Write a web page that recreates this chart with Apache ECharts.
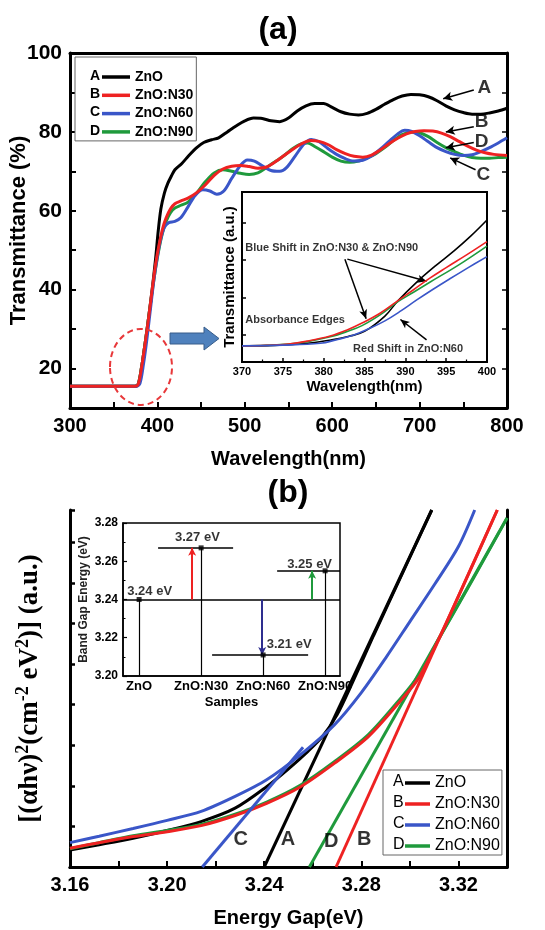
<!DOCTYPE html>
<html><head><meta charset="utf-8">
<script src="https://cdn.jsdelivr.net/npm/echarts@6/dist/echarts.min.js"></script>
<style>html,body{margin:0;padding:0;background:#fff}#c{width:545px;height:930px}</style>
</head><body><div id="c"></div>
<script>
// ---------- names / colours ----------
const names = ['ZnO', 'ZnO:N30', 'ZnO:N60', 'ZnO:N90'];
const letters = ['A', 'B', 'C', 'D'];
const colors = ['#000000', '#ee2222', '#3a56c8', '#1f9a3c'];

// ---------- (a) transmittance spectra: [wavelength nm, T %] ----------
const transA = [[300,15.5],[340,15.5],[374,15.5],[378,16],[382,20.5],[386,26.5],[390,33],[394,40],[398,48],[401,55],[404,60.5],[408,64.5],[412,67],[416,68.8],[420,70.4],[428,72],[436,74],[445,76],[453,77.3],[462,78],[470,78.5],[480,80],[490,81.5],[500,82.8],[510,83.5],[520,83.4],[530,82.8],[540,82.6],[550,83.5],[560,85.3],[570,86.6],[580,87.2],[590,87.2],[600,86.2],[610,85.1],[620,84.5],[630,84.3],[640,84.7],[650,85.7],[660,87],[670,88.2],[680,89.1],[690,89.5],[700,89.4],[710,88.9],[720,87.9],[730,86.6],[740,85.6],[750,84.9],[760,84.5],[770,84.5],[780,84.8],[790,85.3],[800,86]];
const transB = [[300,15.5],[340,15.5],[374,15.5],[378,16],[382,20.5],[386,26.5],[390,33],[394,40],[398,46.5],[402,51.5],[406,55.5],[410,58.2],[415,60.5],[420,61.8],[427,62.5],[435,63.2],[445,64.6],[455,66.6],[465,69],[475,70.6],[485,71.3],[495,71.5],[505,71.2],[515,70.8],[525,71.1],[535,72.4],[545,74],[555,75.6],[565,77],[575,77.8],[585,77.6],[595,76.8],[605,75.5],[615,74.5],[625,73.8],[635,73.6],[645,74.1],[655,75.4],[665,77],[675,78.4],[685,79.5],[695,80.1],[705,80.3],[715,80.2],[725,79.7],[735,78.8],[745,77.6],[755,76.4],[765,75.4],[775,74.7],[785,74.3],[800,74]];
const transC = [[300,15.5],[340,15.5],[376,15.5],[380,16.2],[384,21],[388,27.5],[392,35],[396,42.5],[400,48.5],[404,53],[408,55.8],[413,57],[420,57.3],[427,58.3],[435,61],[443,63.8],[452,65.3],[460,65],[468,64.2],[476,65],[485,68.2],[495,71.5],[503,72.9],[511,72.6],[520,71.4],[530,70.2],[540,70],[548,71],[558,74],[568,77],[576,78.1],[585,77.5],[595,75.8],[605,74.3],[615,73.2],[625,72.6],[635,72.8],[645,73.9],[655,75.6],[665,77.6],[675,79.5],[683,80.4],[691,80.1],[700,79],[710,77.5],[720,76],[730,75],[740,74.3],[750,74],[760,74.2],[770,75],[780,76],[790,77.2],[800,78.5]];
const transD = [[300,15.5],[340,15.5],[374,15.5],[378,16],[382,20.5],[386,26.5],[390,33],[394,39.5],[398,45.5],[402,50.5],[406,54.5],[410,57.3],[415,59.5],[420,60.7],[427,61.4],[435,62.2],[445,64.5],[455,67.4],[465,69.6],[475,70.4],[485,70],[495,69.5],[505,69.2],[515,69.6],[525,71],[535,72.5],[545,74],[555,75.8],[565,77],[572,77.2],[580,76.3],[590,75],[600,73.6],[610,72.6],[620,72.3],[630,72.6],[640,73.4],[650,74.5],[660,76],[670,77.8],[680,79.3],[690,80],[700,79.8],[710,78.8],[720,77.3],[730,76],[740,75],[750,74.1],[760,73.5],[770,73.3],[780,73.3],[790,73.5],[800,73.6]];

// ---------- (a) inset: absorption edge, [wavelength nm, T a.u.] ----------
const edgeA = [[370,9.5],[374,9.8],[378,11],[381,13],[383,15],[385,18],[387.5,27],[389,35.5],[391.4,47],[393.8,57],[396,65.5],[398,74],[400,83.5]];
const edgeB = [[370,9.5],[373,9.8],[375.7,10.6],[378,12.3],[380.8,15.3],[382.8,18.7],[384.7,22.9],[387,29],[389.1,36.1],[391,42.5],[393,49.3],[395,55.5],[397.5,63],[400,70.8]];
const edgeC = [[370,9.5],[375,9.9],[379.6,11],[381.5,13],[383.6,15.7],[385.5,19.5],[387.5,24.2],[389.5,30.2],[391.4,36.5],[393.4,42.8],[395.4,48.8],[397.7,55.5],[400,62]];
const edgeD = [[370,9.5],[373,9.8],[375.7,10.5],[378,12],[380.8,14.8],[382.8,17.8],[384.7,21.4],[387,28],[389.1,35.5],[391,41],[393,46.9],[396.5,57],[400,68.2]];

// ---------- (b) Tauc plot, [energy eV, (αhν)² a.u.] ----------
const taucA = [[3.160,0.42],[3.172,0.55],[3.186,0.71],[3.200,0.90],[3.214,1.12],[3.228,1.45],[3.241,1.98],[3.250,2.42],[3.258,2.85],[3.264,3.22],[3.270,3.75],[3.276,4.5],[3.285,5.7],[3.297,7.25],[3.309,8.8]];
const taucB = [[3.160,0.46],[3.172,0.60],[3.186,0.75],[3.200,0.87],[3.214,1.02],[3.228,1.27],[3.241,1.57],[3.255,1.98],[3.269,2.56],[3.283,3.22],[3.2965,4.12],[3.3035,4.65],[3.3117,5.6],[3.324,7.2],[3.336,8.8]];
const taucC = [[3.160,0.60],[3.172,0.76],[3.186,0.95],[3.200,1.15],[3.214,1.37],[3.228,1.74],[3.241,2.15],[3.255,2.77],[3.269,3.51],[3.280,4.3],[3.290,5.15],[3.300,6.05],[3.310,6.95],[3.320,7.9],[3.3267,8.8]];
const taucD = [[3.160,0.45],[3.172,0.60],[3.186,0.77],[3.200,0.90],[3.214,1.05],[3.228,1.30],[3.241,1.60],[3.255,2.02],[3.269,2.60],[3.283,3.27],[3.2965,4.18],[3.3035,4.72],[3.3117,5.6],[3.326,7.1],[3.340,8.6]];
// linear extrapolations to the energy axis
const fitA = [[3.240,0],[3.309,8.8]];
const fitB = [[3.2696,0],[3.336,8.8]];
const fitC = [[3.2145,0],[3.256,2.95]];
const fitD = [[3.2586,0],[3.340,8.6]];

// ---------- (b) inset: band gap per sample ----------
const samples = ['ZnO', 'ZnO:N30', 'ZnO:N60', 'ZnO:N90'];
const bandGap = [3.24, 3.267, 3.211, 3.255];
const gapLabels = ['3.24 eV', '3.27 eV', '3.21 eV', '3.25 eV'];
const refGap = 3.24;

// ---------- annotation anchors (data coordinates) ----------
const aLetterPos = [[774,91.1],[771,82.5],[773,69.1],[771,77.5]];           // A B C D
const aArrows = [[[762,90.6],[727,88.4]],[[762,81.3],[730,80.0]],[[764,70.4],[735,73.4]],[[762,77.3],[730,76.0]]];
const insetTexts = [['Blue Shift in ZnO:N30 & ZnO:N90',370.4,67],['Absorbance Edges',370.4,24.7],['Red Shift in ZnO:N60',383.6,7.5]];
const insetArrows = [[[382.9,60.5],[392.6,47.5]],[[382.6,60.5],[385.2,25.5]],[[392.6,13],[389.4,25]]];
const bLetterPos = [[3.2498,0.67],[3.2812,0.67],[3.2303,0.67],[3.2676,0.62]]; // A B C D
const levelSegs = [[1.306,2.516],[2.177,3.726],[3.226,4.24]];                 // N30, N60, N90 level marks
const gapArrowX = [1.855, 2.985, 3.79];
const gapLabelPos = [[1.17,3.2441],[1.94,3.2723],[3.42,3.2167],[3.75,3.2585]];

const F = 'Liberation Sans, Arial, sans-serif';
const SERIF = 'Liberation Serif, Times New Roman, serif';
const B = 'bold';

const chart = echarts.init(document.getElementById('c'), null, {renderer: 'canvas'});

const series = [];
// (a) main curves, drawn black, green, blue, red (red on top)
[0,3,2,1].forEach(i => {
  series.push({name: names[i], type: 'line', xAxisIndex: 0, yAxisIndex: 0,
    data: [transA, transB, transC, transD][i], showSymbol: false, smooth: 0.3,
    lineStyle: {color: colors[i], width: 3}, itemStyle: {color: colors[i]}, z: 2});
});
// (a) letter labels + arrows
series.push({type: 'scatter', xAxisIndex: 0, yAxisIndex: 0, symbolSize: 1, itemStyle: {color: 'rgba(0,0,0,0)'},
  data: aLetterPos.map((p, i) => ({value: p, name: letters[i]})),
  label: {show: true, position: 'inside', formatter: p => p.name, fontSize: 19, fontWeight: B, color: '#000', fontFamily: F},
  markLine: {silent: true, symbol: ['none', 'arrow'], symbolSize: [7, 9], label: {show: false},
    lineStyle: {color: '#000', width: 1.5, type: 'solid'},
    data: aArrows.map(a => [{coord: a[0]}, {coord: a[1]}])}, z: 3});
// (a) inset curves
[0,3,1,2].forEach(i => {
  series.push({name: names[i], type: 'line', xAxisIndex: 2, yAxisIndex: 2,
    data: [edgeA, edgeB, edgeC, edgeD][i], showSymbol: false, smooth: 0.4,
    lineStyle: {color: colors[i], width: 1.6}, itemStyle: {color: colors[i]}, z: 7});
});
series.push({type: 'scatter', xAxisIndex: 2, yAxisIndex: 2, symbolSize: 1, itemStyle: {color: 'rgba(0,0,0,0)'},
  data: insetTexts.map(t => ({value: [t[1], t[2]], name: t[0]})),
  label: {show: true, position: 'inside', align: 'left', verticalAlign: 'middle', formatter: p => p.name,
    fontSize: 11, fontWeight: B, color: '#000', fontFamily: F},
  markLine: {silent: true, symbol: ['none', 'arrow'], symbolSize: [6, 9], label: {show: false},
    lineStyle: {color: '#000', width: 1.5, type: 'solid'},
    data: insetArrows.map(a => [{coord: a[0]}, {coord: a[1]}])}, z: 8});

// (b) Tauc curves + fits
[0,3,1,2].forEach(i => {
  series.push({name: names[i], type: 'line', xAxisIndex: 3, yAxisIndex: 3,
    data: [taucA, taucB, taucC, taucD][i], showSymbol: false, smooth: 0.3,
    lineStyle: {color: colors[i], width: 3}, itemStyle: {color: colors[i]}, z: 2});
  series.push({name: names[i], type: 'line', xAxisIndex: 3, yAxisIndex: 3,
    data: [fitA, fitB, fitC, fitD][i], showSymbol: false,
    lineStyle: {color: colors[i], width: 3}, itemStyle: {color: colors[i]}, z: 2});
});
series.push({type: 'scatter', xAxisIndex: 3, yAxisIndex: 3, symbolSize: 1, itemStyle: {color: 'rgba(0,0,0,0)'},
  data: bLetterPos.map((p, i) => ({value: p, name: letters[i]})),
  label: {show: true, position: 'inside', formatter: p => p.name, fontSize: 20, fontWeight: B, color: '#000', fontFamily: F}, z: 3});

// (b) inset band gaps
const gapLines = [];
bandGap.forEach((g, i) => gapLines.push([{coord: [i + 1, 3.20]}, {coord: [i + 1, g]}]));
gapLines.push([{coord: [0.74, refGap], lineStyle: {width: 1.6}}, {coord: [4.24, refGap]}]);
levelSegs.forEach((s, k) => gapLines.push([{coord: [s[0], bandGap[k + 1]], lineStyle: {width: 1.6}}, {coord: [s[1], bandGap[k + 1]]}]));
const arrowCols = [colors[1], '#2e2e8f', colors[3]];
gapArrowX.forEach((x, k) => gapLines.push([
  {coord: [x, refGap], lineStyle: {color: arrowCols[k], width: 2}},
  {coord: [x, bandGap[k + 1]], symbol: 'arrow', symbolSize: [6, 8], itemStyle: {color: arrowCols[k]}}]));
series.push({type: 'scatter', xAxisIndex: 5, yAxisIndex: 5, symbol: 'rect', symbolSize: 5,
  itemStyle: {color: '#000'}, data: bandGap.map((g, i) => [i + 1, g]), z: 8,
  markLine: {silent: true, symbol: ['none', 'none'], label: {show: false}, animation: false,
    lineStyle: {color: '#000', width: 1.2, type: 'solid'}, data: gapLines}});
series.push({type: 'scatter', xAxisIndex: 5, yAxisIndex: 5, symbolSize: 1, itemStyle: {color: 'rgba(0,0,0,0)'},
  data: gapLabelPos.map((p, i) => ({value: p, name: gapLabels[i]})),
  label: {show: true, position: 'inside', formatter: p => p.name, fontSize: 13, fontWeight: B, color: '#000', fontFamily: F}, z: 9});

const axLine = w => ({show: true, lineStyle: {color: '#000', width: w}});

const option = {
  animation: false,
  backgroundColor: '#fff',
  textStyle: {fontFamily: F, color: '#000'},
  title: [
    {text: '(a)', left: 273, textAlign: 'center', top: 9, textStyle: {fontSize: 32, fontWeight: B, color: '#000', fontFamily: F}},
    {text: '(b)', left: 283, textAlign: 'center', top: 472, textStyle: {fontSize: 32, fontWeight: B, color: '#000', fontFamily: F}}
  ],
  grid: [
    {left: 70, top: 53, width: 437, height: 355, outerBoundsMode: 'none', containLabel: false},
    {left: 242, top: 192, width: 245, height: 170, show: true, backgroundColor: '#fff', borderColor: '#000', borderWidth: 2, z: 5, outerBoundsMode: 'none', containLabel: false},
    {left: 70, top: 510, width: 437, height: 357, outerBoundsMode: 'none', containLabel: false},
    {left: 123, top: 523, width: 217, height: 153, show: true, backgroundColor: '#fff', borderColor: '#000', borderWidth: 1.5, z: 5, outerBoundsMode: 'none', containLabel: false}
  ],
  legend: [
    {data: names, orient: 'vertical', left: 75, top: 57, padding: [12, 3, 1, 27], itemGap: 2.3, itemWidth: 28, itemHeight: 3.5,
      icon: 'rect', borderColor: '#666', borderWidth: 1, backgroundColor: '#fff', selectedMode: false,
      textStyle: {fontSize: 14, fontWeight: B, lineHeight: 16, color: '#000', fontFamily: F}},
    {data: names, orient: 'vertical', left: 383, top: 770, padding: [4, 2, 0, 22], itemGap: 3, itemWidth: 25, itemHeight: 3.5,
      icon: 'rect', borderColor: '#666', borderWidth: 1, backgroundColor: '#fff', selectedMode: false,
      textStyle: {fontSize: 16, lineHeight: 18, color: '#000', fontFamily: F}}
  ],
  xAxis: [
    {gridIndex: 0, type: 'value', min: 300, max: 800, interval: 50, position: 'bottom', nameMoveOverlap: false,
      axisLine: axLine(3), axisTick: {inside: true, length: 6, lineStyle: {width: 2, color: '#000'}},
      axisLabel: {formatter: v => (v % 100 === 0 ? String(v) : ''), fontSize: 20, fontWeight: B, color: '#000', margin: 8},
      splitLine: {show: false},
      name: 'Wavelength(nm)', nameLocation: 'middle', nameGap: 41, nameTextStyle: {fontSize: 20, fontWeight: B, color: '#000'}},
    {gridIndex: 0, type: 'value', min: 300, max: 800, interval: 50, position: 'top',
      axisLine: axLine(3), axisTick: {show: false}, axisLabel: {show: false}, splitLine: {show: false}},
    {gridIndex: 1, type: 'value', min: 370, max: 400, interval: 5, z: 6, nameMoveOverlap: false,
      axisLine: axLine(2), axisTick: {inside: true, length: 4, lineStyle: {width: 1.5, color: '#000'}},
      minorTick: {show: true, splitNumber: 2, length: 2.5, lineStyle: {color: '#000', width: 1.2}},
      axisLabel: {fontSize: 11, fontWeight: B, color: '#000', margin: 4}, splitLine: {show: false},
      name: 'Wavelength(nm)', nameLocation: 'middle', nameGap: 17, nameTextStyle: {fontSize: 15, fontWeight: B, color: '#000'}},
    {gridIndex: 2, type: 'value', min: 3.16, max: 3.34, interval: 0.02, position: 'bottom', nameMoveOverlap: false,
      axisLine: axLine(3), axisTick: {inside: true, length: 6, lineStyle: {width: 2, color: '#000'}},
      axisLabel: {formatter: v => { const k = Math.round(v * 100); return k % 4 === 0 ? (k / 100).toFixed(2) : ''; },
        fontSize: 20, fontWeight: B, color: '#000', margin: 8},
      splitLine: {show: false},
      name: 'Energy Gap(eV)', nameLocation: 'middle', nameGap: 41, nameTextStyle: {fontSize: 20, fontWeight: B, color: '#000'}},
    {gridIndex: 2, type: 'value', min: 3.16, max: 3.34, position: 'top',
      axisLine: axLine(3), axisTick: {show: false}, axisLabel: {show: false}, splitLine: {show: false}},
    {gridIndex: 3, type: 'value', min: 0.74, max: 4.24, z: 6, nameMoveOverlap: false,
      axisLine: axLine(1.5), axisTick: {show: false},
      axisLabel: {customValues: [1, 2, 3, 4], formatter: v => samples[Math.round(v) - 1] || '', fontSize: 13, fontWeight: B, color: '#000', margin: 4},
      splitLine: {show: false},
      name: 'Samples', nameLocation: 'middle', nameGap: 20, nameTextStyle: {fontSize: 13, fontWeight: B, color: '#000'}}
  ],
  yAxis: [
    {gridIndex: 0, type: 'value', min: 10, max: 100, interval: 10, position: 'left', nameMoveOverlap: false,
      axisLine: axLine(3), axisTick: {inside: true, length: 6, lineStyle: {width: 2, color: '#000'}},
      axisLabel: {formatter: v => (v % 20 === 0 ? String(v) : ''), fontSize: 21, fontWeight: B, color: '#000', margin: 8},
      splitLine: {show: false},
      name: 'Transmittance (%)', nameLocation: 'middle', nameRotate: 90, nameGap: 40, nameTextStyle: {fontSize: 22, fontWeight: B, color: '#000'}},
    {gridIndex: 0, type: 'value', min: 10, max: 100, interval: 10, position: 'right',
      axisLine: axLine(3), axisTick: {inside: true, length: 5, lineStyle: {width: 1.5, color: '#000'}},
      axisLabel: {show: false}, splitLine: {show: false}},
    {gridIndex: 1, type: 'value', min: 0, max: 100, z: 6, nameMoveOverlap: false,
      axisLine: axLine(2), axisTick: {inside: true, length: 4, customValues: [16, 38, 60, 82], lineStyle: {width: 1.5, color: '#000'}},
      axisLabel: {show: false}, splitLine: {show: false},
      name: 'Transmittance (a.u.)', nameLocation: 'middle', nameRotate: 90, nameGap: 5, nameTextStyle: {fontSize: 15, fontWeight: B, color: '#000'}},
    {gridIndex: 2, type: 'value', min: 0, max: 8.8, interval: 1, position: 'left', nameMoveOverlap: false,
      axisLine: axLine(3), axisTick: {inside: true, length: 5, lineStyle: {width: 2.5, color: '#000'}},
      axisLabel: {show: false}, splitLine: {show: false},
      name: '{b|[(αhν)}{s|2}{b|(cm}{s|-2}{b| eV}{s|2}{b|)] (a.u.)}', nameLocation: 'middle', nameRotate: 90, nameGap: 24,
      nameTextStyle: {rich: {
        b: {fontFamily: SERIF, fontWeight: B, fontSize: 27, lineHeight: 32, color: '#000'},
        s: {fontFamily: SERIF, fontWeight: B, fontSize: 18, lineHeight: 18, verticalAlign: 'top', color: '#000'}}}},
    {gridIndex: 2, type: 'value', min: 0, max: 8.8, position: 'right',
      axisLine: axLine(3), axisTick: {show: false}, axisLabel: {show: false}, splitLine: {show: false}},
    {gridIndex: 3, type: 'value', min: 3.20, max: 3.28, interval: 0.02, z: 6, nameMoveOverlap: false,
      axisLine: axLine(1.5), axisTick: {inside: true, length: 4, lineStyle: {width: 1.2, color: '#000'}},
      minorTick: {show: true, splitNumber: 2, length: 2.5, lineStyle: {color: '#000', width: 1}},
      axisLabel: {formatter: v => v.toFixed(2), fontSize: 12, fontWeight: B, color: '#000', margin: 5}, splitLine: {show: false},
      name: 'Band Gap Energy (eV)', nameLocation: 'middle', nameRotate: 90, nameGap: 33, nameTextStyle: {fontSize: 12, fontWeight: B, color: '#222'}}
  ],
  series: series,
  graphic: [
    // legend letters
    ...letters.map((l, i) => ({type: 'text', z: 100, left: 90, top: 69 + i * 18.3,
      style: {text: l, font: 'bold 14px ' + F, fill: '#000'}})),
    ...letters.map((l, i) => ({type: 'text', z: 100, left: 393, top: 774 + i * 21,
      style: {text: l, font: '16px ' + F, fill: '#000'}})),
    // dashed ellipse around the edge
    {type: 'ellipse', z: 50, shape: {cx: 141, cy: 367, rx: 31, ry: 38},
      style: {fill: 'none', stroke: '#e8383a', lineWidth: 2, lineDash: [6, 4]}},
    // block arrow pointing to inset
    {type: 'polygon', z: 50, shape: {points: [[170,333],[204,333],[204,327],[219,338.5],[204,350],[204,344],[170,344]]},
      style: {fill: '#4f81bd', stroke: '#385d8a', lineWidth: 1}}
  ]
};
chart.setOption(option);
</script></body></html>
